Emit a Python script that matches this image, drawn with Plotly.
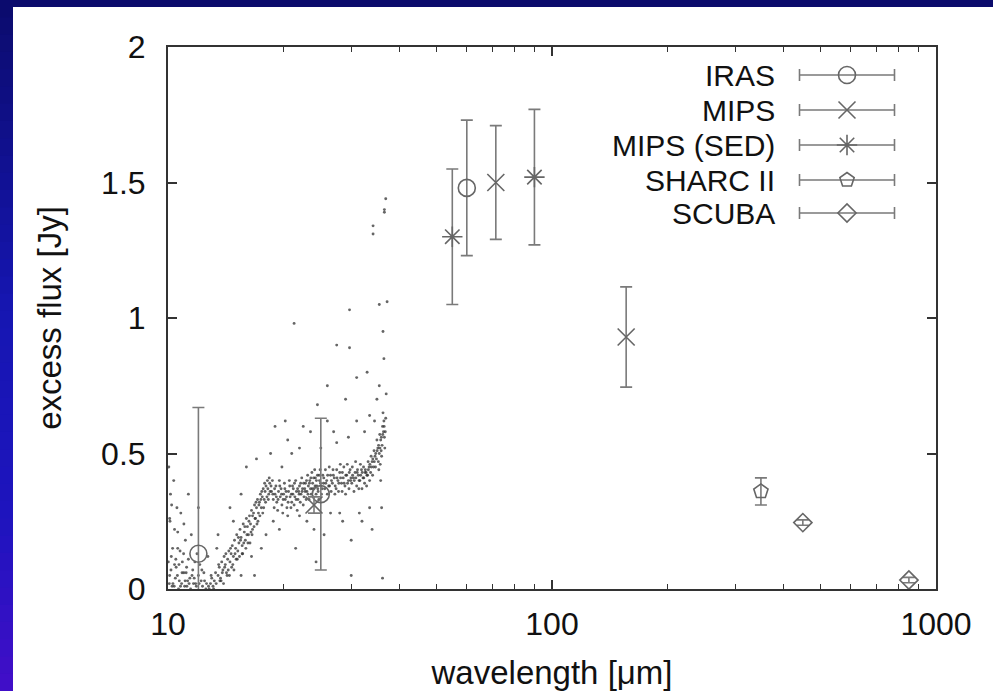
import plotly.graph_objects as go

# ---------------- data ----------------
iras_wl = [12, 25, 60]
iras_flux = [0.13, 0.35, 1.48]
iras_err = [0.54, 0.28, 0.25]

mips_wl = [24, 71.4, 156]
mips_flux = [0.31, 1.50, 0.93]
mips_err = [0.03, 0.21, 0.185]

sed_wl = [55, 90]
sed_flux = [1.30, 1.52]
sed_err = [0.25, 0.25]

sharc_wl = [350]
sharc_flux = [0.36]
sharc_err = [0.05]

scuba_wl = [450, 850]
scuba_flux = [0.245, 0.033]
scuba_err = [0.01, 0.01]

# IRS spectrum points
spec_wl = [
    10.1, 10.2, 10.3, 10.4, 10.5, 10.6, 10.7, 10.8, 10.9, 11.0, 11.1, 11.2, 11.3, 11.4, 11.5, 11.6, 11.8, 11.9,
    12.0, 12.1, 12.3, 12.4, 10.15, 10.35, 10.55, 10.25, 10.45, 10.65, 10.85, 11.05, 11.25, 11.45, 11.65, 12.2,
    12.6, 12.8, 10.05, 10.12, 10.4, 10.75, 11.15, 11.7,
    12.9, 13.0, 13.2, 13.3, 13.5, 13.6, 13.7, 13.8, 13.9, 14.0, 14.1, 14.2, 14.3, 14.4, 14.5, 14.6, 14.7, 14.8,
    14.9, 15.0, 15.1, 15.2, 15.3, 15.4, 15.5, 15.6, 15.7, 15.8, 15.9, 16.0, 16.1, 16.2, 16.3, 16.4, 16.5, 16.6,
    16.7, 16.8, 16.9, 17.0, 17.1, 17.2, 17.3, 17.4, 17.5, 17.6, 17.7, 17.8, 17.9, 18.0, 18.1, 18.2, 18.3, 18.4,
    13.4, 14.8, 15.5, 16.5, 17.5, 16.0, 18.0, 19.0, 13.1, 13.65, 14.25, 14.65, 15.15, 15.65, 16.15, 16.55, 17.05, 17.65,
    18.6, 18.8, 19.0, 19.2, 19.4, 19.6, 19.8, 20.0, 20.2, 20.4, 20.6, 20.8, 21.0, 21.2, 21.4, 21.6, 21.8, 22.0,
    22.2, 22.4, 22.6, 22.8, 23.0, 23.2, 23.4, 23.6, 23.8, 24.0, 24.2, 24.4, 24.6, 24.8, 25.0, 25.3, 25.6, 25.9,
    26.2, 26.5, 26.8, 27.1, 27.4, 27.7, 28.0, 28.3, 28.6, 28.9, 29.2, 29.5, 29.8, 30.1, 30.4, 30.7, 31.0, 31.3,
    31.6, 31.9, 32.2, 32.5, 32.8, 33.1, 33.4, 33.7, 34.0, 34.3, 34.6, 34.9, 35.2, 35.5, 35.8, 36.1, 36.4, 36.6,
    18.7, 18.9, 19.1, 19.3, 19.5, 19.7, 19.9, 20.1, 20.3, 20.5, 20.7, 20.9, 21.1, 21.3, 21.5, 21.7, 21.9, 22.1,
    22.3, 22.5, 22.7, 22.9, 23.1, 23.3, 23.5, 23.7, 23.9, 24.1, 24.3, 24.5, 24.7, 24.9, 25.1, 25.4, 25.7, 26.0,
    26.3, 26.6, 26.9, 27.2, 27.5, 27.8, 28.1, 28.4, 28.7, 29.0, 29.3, 29.6, 29.9, 30.2, 30.5, 30.8, 31.1, 31.4,
    31.7, 32.0, 32.3, 32.6, 32.9, 33.2, 33.5, 33.8, 34.1, 34.4, 34.7, 35.0, 35.3, 35.6, 35.9, 36.2, 36.5, 36.7,
    19.5, 20.5, 21.5, 22.5, 23.0, 24.5, 25.5, 26.0, 27.0, 28.0, 29.0, 30.0, 31.0, 32.0, 33.0, 34.0, 35.0, 36.0,
    36.5, 36.9, 36.6, 36.6, 34.2, 34.2, 37.2, 29.7, 21.3, 29.7, 36.2, 30.0, 22.0, 18.5, 16.8, 27.5, 33.5, 35.5,
    12.75, 12.95, 13.15, 13.35, 13.55, 13.75, 13.85, 13.95, 14.05, 14.15, 14.35, 14.45, 14.55, 14.75, 14.85,
    14.95, 15.05, 15.25, 15.35, 15.45, 15.6, 15.75, 15.85, 15.95, 16.05, 16.25, 16.35, 16.45, 16.6, 16.75,
    16.85, 16.95, 17.15, 17.25, 17.35, 17.45, 17.55, 17.75, 17.85, 17.95, 18.15, 18.25, 18.35, 18.45,
    10.02, 10.08, 10.18, 10.28, 10.38, 10.48, 10.58, 10.68, 10.78, 10.88, 10.98, 11.08, 11.18, 11.35, 11.55,
    11.75, 11.85, 12.05, 12.25, 12.45, 12.55, 10.1, 10.22, 10.6, 11.0,
    18.55, 18.75, 18.95, 19.15, 19.35, 19.55, 19.75, 19.95, 20.15, 20.35, 20.55, 20.75, 20.95, 21.15, 21.35,
    21.55, 21.75, 21.95, 22.15, 22.35, 22.55, 22.75, 22.95, 23.15, 23.35, 23.55, 23.75, 23.95, 24.15, 24.35,
    24.55, 24.75, 24.95, 25.2, 25.45, 25.75, 26.05, 26.35, 26.65, 26.95, 27.25, 27.55, 27.85, 28.15, 28.45,
    28.75, 29.05, 29.35, 29.65, 29.95, 30.25, 30.55, 30.85, 31.15, 31.45, 31.75, 32.05, 32.35, 32.65, 32.95,
    33.25, 33.55, 33.85, 34.15, 34.45, 34.75, 35.05, 35.35, 35.65, 35.95, 36.25, 36.55, 36.8, 36.9, 36.3,
    36.0, 35.7, 35.4,
    11.3, 12.0, 12.7, 13.5, 14.5, 15.5, 17.0, 18.8, 19.8, 21.0, 22.0, 23.5, 24.0, 25.0, 26.5, 27.5, 28.5,
    29.5, 31.5, 32.5, 33.5, 34.5, 35.5, 36.3, 35.8, 37.0, 20.2, 26.0, 31.0, 24.3,
]
spec_flux = [
    0.05, 0.12, 0.02, 0.22, 0.08, 0.15, 0.03, 0.28, 0.10, 0.06, 0.18, 0.01, 0.11, 0.04, 0.20, 0.07, 0.02, 0.13,
    0.05, 0.09, 0.01, 0.06, 0.35, 0.40, 0.30, 0.01, 0.04, 0.00, 0.02, 0.01, 0.03, 0.00, 0.02, 0.03,
    0.02, 0.00, 0.45, 0.25, 0.09, 0.14, 0.06, 0.04,
    0.02, 0.04, 0.03, 0.06, 0.05, 0.08, 0.04, 0.10, 0.07, 0.12, 0.09, 0.06, 0.11, 0.14, 0.10, 0.13, 0.16, 0.12,
    0.18, 0.15, 0.20, 0.14, 0.17, 0.22, 0.19, 0.16, 0.24, 0.21, 0.18, 0.26, 0.23, 0.20, 0.27, 0.24, 0.29, 0.22,
    0.28, 0.31, 0.26, 0.30, 0.33, 0.28, 0.32, 0.35, 0.30, 0.34, 0.37, 0.33, 0.36, 0.38, 0.34, 0.37, 0.35, 0.39,
    0.15, 0.25, 0.05, 0.12, 0.15, 0.45, 0.20, 0.60, 0.01, 0.03, 0.05, 0.08, 0.11, 0.13, 0.17, 0.20, 0.24, 0.28,
    0.36, 0.33, 0.35, 0.32, 0.36, 0.34, 0.31, 0.35, 0.33, 0.30, 0.36, 0.34, 0.32, 0.37, 0.34, 0.36, 0.33, 0.38,
    0.35, 0.37, 0.34, 0.39, 0.36, 0.38, 0.40, 0.35, 0.39, 0.37, 0.41, 0.38, 0.36, 0.40, 0.38, 0.42, 0.37, 0.40,
    0.38, 0.42, 0.39, 0.41, 0.37, 0.40, 0.43, 0.39, 0.41, 0.38, 0.42, 0.40, 0.44, 0.39, 0.41, 0.43, 0.38, 0.42,
    0.40, 0.44, 0.41, 0.39, 0.43, 0.42, 0.45, 0.43, 0.47, 0.45, 0.49, 0.48, 0.52, 0.50, 0.55, 0.53, 0.58, 0.56,
    0.40, 0.30, 0.38, 0.29, 0.40, 0.37, 0.28, 0.39, 0.36, 0.27, 0.40, 0.30, 0.38, 0.31, 0.40, 0.29, 0.36, 0.32,
    0.41, 0.31, 0.37, 0.33, 0.42, 0.33, 0.37, 0.43, 0.34, 0.44, 0.35, 0.42, 0.33, 0.44, 0.35, 0.39, 0.44, 0.35,
    0.45, 0.36, 0.44, 0.35, 0.44, 0.36, 0.46, 0.36, 0.45, 0.35, 0.46, 0.37, 0.40, 0.45, 0.36, 0.47, 0.43, 0.37,
    0.46, 0.37, 0.45, 0.43, 0.38, 0.47, 0.40, 0.49, 0.42, 0.51, 0.45, 0.55, 0.47, 0.57, 0.51, 0.60, 0.62, 0.52,
    0.22, 0.55, 0.15, 0.60, 0.25, 0.68, 0.20, 0.75, 0.58, 0.28, 0.70, 0.18, 0.62, 0.25, 0.80, 0.22, 0.70, 0.30,
    0.85, 1.44, 1.40, 1.39, 1.34, 1.31, 1.06, 1.03, 0.98, 0.89, 0.04, 0.05, 0.52, 0.50, 0.05, 0.90, 0.64, 1.05,
    0.01, 0.05, 0.00, 0.02, 0.09, 0.03, 0.06, 0.02, 0.08, 0.13, 0.07, 0.05, 0.15, 0.09, 0.07,
    0.13, 0.11, 0.19, 0.12, 0.18, 0.13, 0.17, 0.23, 0.15, 0.20, 0.25, 0.17, 0.21, 0.27, 0.23,
    0.26, 0.32, 0.25, 0.31, 0.27, 0.33, 0.36, 0.30, 0.39, 0.32, 0.40, 0.33, 0.41, 0.36,
    0.10, 0.02, 0.07, 0.15, 0.01, 0.11, 0.05, 0.09, 0.01, 0.06, 0.13, 0.03, 0.08, 0.02, 0.05,
    0.10, 0.01, 0.02, 0.07, 0.03, 0.00, 0.26, 0.31, 0.21, 0.24,
    0.38, 0.35, 0.37, 0.34, 0.33, 0.38, 0.35, 0.33, 0.37, 0.34, 0.32, 0.38, 0.35, 0.35, 0.39,
    0.33, 0.37, 0.35, 0.39, 0.36, 0.39, 0.36, 0.40, 0.35, 0.39, 0.41, 0.37, 0.41, 0.38, 0.40,
    0.37, 0.42, 0.39, 0.37, 0.41, 0.39, 0.42, 0.38, 0.40, 0.42, 0.38, 0.41, 0.39, 0.41, 0.43,
    0.39, 0.42, 0.39, 0.43, 0.41, 0.42, 0.40, 0.41, 0.44, 0.40, 0.42, 0.43, 0.41, 0.44, 0.42,
    0.44, 0.46, 0.45, 0.48, 0.47, 0.50, 0.51, 0.53, 0.52, 0.56, 0.57, 0.60, 0.58, 0.63, 0.65,
    0.49, 0.46, 0.44,
    0.35, 0.30, 0.12, 0.20, 0.30, 0.35, 0.48, 0.25, 0.45, 0.50, 0.27, 0.58, 0.22, 0.52, 0.28, 0.54, 0.25,
    0.56, 0.28, 0.58, 0.30, 0.62, 0.75, 0.95, 0.40, 0.72, 0.62, 0.62, 0.78, 0.10,
]

x_tickvals = [10, 100, 1000]
x_ticktext = ["10", "100", "1000"]
y_tickvals = [0, 0.5, 1, 1.5, 2]

legend_names = ["IRAS", "MIPS", "MIPS (SED)", "SHARC II", "SCUBA"]

# ---------------- style / layout ----------------
W, H = 993, 691
PL, PR, PT, PB = 168, 936, 47, 589  # plot-area pixel edges
FONT = "Liberation Sans, Arial, Helvetica, sans-serif"
GREY = "#7a7a7a"
MGREY = "#666666"

series = [
    (iras_wl, iras_flux, iras_err, "circle-open", 17),
    (mips_wl, mips_flux, mips_err, "x-thin-open", 17),
    (sed_wl, sed_flux, sed_err, "asterisk-open", 17),
    (sharc_wl, sharc_flux, sharc_err, "pentagon-open", 15),
    (scuba_wl, scuba_flux, scuba_err, "diamond-open", 14),
]

fig = go.Figure()

fig.add_trace(go.Scatter(
    x=spec_wl, y=spec_flux, mode="markers",
    marker=dict(size=2.9, color="rgba(50,50,50,0.75)"),
    showlegend=False, hoverinfo="skip",
))

for (wx, fy, er, sym, sz), name in zip(series, legend_names):
    fig.add_trace(go.Scatter(
        x=wx, y=fy, mode="markers", name=name, showlegend=False,
        marker=dict(symbol=sym, size=sz, color=MGREY, line=dict(color=MGREY, width=1.6)),
        error_y=dict(type="data", array=er, visible=True, color=GREY, thickness=1.6, width=6),
    ))

# ---- hand-made gnuplot-style legend on an auxiliary pixel axis ----
leg_rows = [75, 110, 145, 180, 213]
leg_mark_x = 847
leg_half = 47.5
for (wx, fy, er, sym, sz), name, ry in zip(series, legend_names, leg_rows):
    fig.add_trace(go.Scatter(
        x=[leg_mark_x], y=[ry], xaxis="x2", yaxis="y2", mode="markers", showlegend=False,
        marker=dict(symbol=sym, size=sz, color=MGREY, line=dict(color=MGREY, width=1.6)),
        error_x=dict(type="constant", value=leg_half, visible=True, color=GREY, thickness=1.6, width=6),
        hoverinfo="skip",
    ))
    fig.add_annotation(x=777, y=ry, xref="x2", yref="y2", text=name, showarrow=False,
                       xanchor="right", yanchor="middle",
                       font=dict(family=FONT, size=30, color="#111"))

# ---- background frame (navy top, gradient left strip) ----
def px_x(p):
    return (p - PL) / (PR - PL)

def px_y(p):
    return (PB - p) / (PB - PT)

shapes = []
shapes.append(dict(type="rect", xref="paper", yref="paper",
                   x0=px_x(0), x1=px_x(W), y0=px_y(7), y1=px_y(0),
                   fillcolor="#0b0b6c", line=dict(width=0), layer="above"))
stops = [(0.0, (11, 11, 108)), (0.45, (22, 22, 178)), (0.75, (30, 20, 190)), (1.0, (66, 14, 200))]

def grad(t):
    for (t0, c0), (t1, c1) in zip(stops[:-1], stops[1:]):
        if t0 <= t <= t1:
            f = (t - t0) / (t1 - t0)
            return "rgb(%d,%d,%d)" % tuple(round(a + (b - a) * f) for a, b in zip(c0, c1))
    return "rgb(%d,%d,%d)" % stops[-1][1]

NB = 40
for i in range(NB):
    y0p = H * i / NB
    y1p = H * (i + 1) / NB + 1
    shapes.append(dict(type="rect", xref="paper", yref="paper",
                       x0=px_x(0), x1=px_x(13), y0=px_y(y1p), y1=px_y(y0p),
                       fillcolor=grad((i + 0.5) / NB), line=dict(width=0), layer="above"))

axis_common = dict(
    showline=True, linecolor="#333", linewidth=2, mirror="ticks",
    ticks="inside", ticklen=9, tickwidth=1.5, tickcolor="#333",
    showgrid=False, zeroline=False, automargin=False,
    tickfont=dict(family=FONT, size=32, color="#111"),
)

fig.update_layout(
    width=W, height=H,
    margin=dict(l=PL, r=W - PR, t=PT, b=H - PB, autoexpand=False),
    paper_bgcolor="white", plot_bgcolor="white",
    showlegend=False,
    xaxis=dict(
        type="log", range=[1, 3], tickvals=x_tickvals, ticktext=x_ticktext,
        minor=dict(ticks="inside", ticklen=5, tickwidth=1.2, tickcolor="#333", dtick="D1", showgrid=False),
        title=dict(text="wavelength [μm]", font=dict(family=FONT, size=33, color="#111"), standoff=28),
        ticklabelstandoff=6,
        **axis_common,
    ),
    yaxis=dict(
        range=[0, 2], tickvals=y_tickvals,
        title=dict(text="excess flux [Jy]", font=dict(family=FONT, size=33, color="#111"), standoff=30),
        ticklabelstandoff=14,
        **axis_common,
    ),
    xaxis2=dict(overlaying="x", range=[PL, PR], visible=False, anchor="y2", fixedrange=True),
    yaxis2=dict(overlaying="y", range=[PB, PT], visible=False, anchor="x2", fixedrange=True),
    shapes=shapes,
)

fig.write_html("out.html")
